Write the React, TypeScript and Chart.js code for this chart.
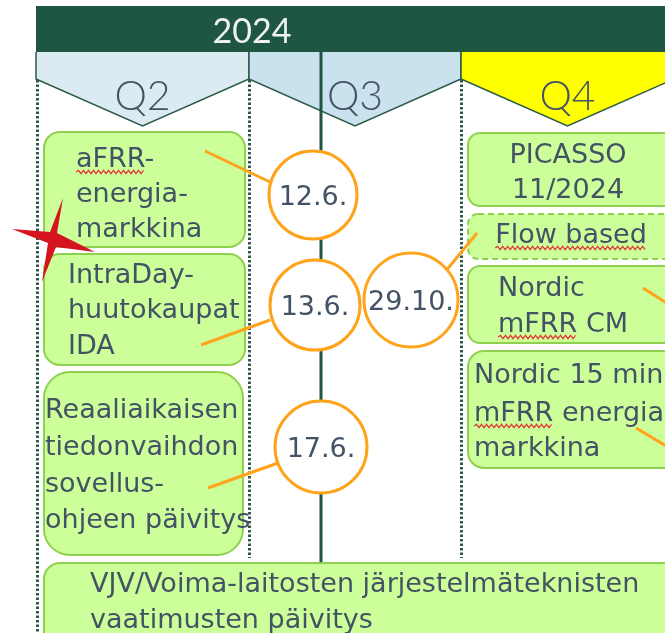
import React, { useEffect, useRef } from "react";
import { Chart, registerables } from "chart.js";

Chart.register(...registerables);

// ---------------- data ----------------
const yearLabel = "2024";
const quarterLabels = ["Q2", "Q3", "Q4"];
const milestoneDates = ["12.6.", "13.6.", "17.6.", "29.10."];
const milestoneX = [313, 315, 321, 411];
const milestoneY = [195, 305, 447, 300];
const milestoneR = [44, 45, 46, 47];

const boxLines = [
  ["aFRR-", "energia-", "markkina"],
  ["IntraDay-", "huutokaupat", "IDA"],
  ["Reaaliaikaisen", "tiedonvaihdon", "sovellus-", "ohjeen päivitys"],
  ["PICASSO", "11/2024"],
  ["Flow based"],
  ["Nordic", "mFRR CM"],
  ["Nordic 15 min", "mFRR energia-", "markkina"],
  ["VJV/Voima-laitosten järjestelmäteknisten", "vaatimusten päivitys"],
];

// words marked by the spell checker: [box, line, word]
const spellMarks: [number, number, string][] = [
  [0, 0, "aFRR"],
  [4, 0, "Flow based"],
  [5, 1, "mFRR"],
  [6, 1, "mFRR"],
];

// ---------------- layout ----------------
const W = 665;
const H = 633;
const header = { x0: 36, x1: 665, y0: 6, y1: 52 };
const quarterEdges = [36, 249, 461, 674];
const chevronSideY = 79;
const chevronTipY = 126;
const dottedLines = [
  { x: 37.5, y0: 80, y1: 633 },
  { x: 249.5, y0: 80, y1: 558 },
  { x: 461.5, y0: 80, y1: 558 },
];
const timeline = { x: 321, y0: 52, y1: 562 };

const boxRects = [
  { x0: 44, x1: 245, y0: 132, y1: 247, r: 16, dashed: false },
  { x0: 44, x1: 245, y0: 254, y1: 365, r: 16, dashed: false },
  { x0: 44, x1: 243, y0: 372, y1: 555, r: 26, dashed: false },
  { x0: 468, x1: 690, y0: 133, y1: 206, r: 12, dashed: false },
  { x0: 468, x1: 690, y0: 214, y1: 259, r: 10, dashed: true },
  { x0: 468, x1: 690, y0: 266, y1: 343, r: 12, dashed: false },
  { x0: 468, x1: 690, y0: 351, y1: 468, r: 16, dashed: false },
  { x0: 44, x1: 690, y0: 563, y1: 680, r: 16, dashed: false },
];
const textAnchors = [
  { x: 76, align: "left", ys: [157, 192, 227] },
  { x: 68, align: "left", ys: [273, 308, 344] },
  { x: 45, align: "left", ys: [408, 445, 482, 518] },
  { x: 568, align: "center", ys: [153, 188] },
  { x: 571, align: "center", ys: [233] },
  { x: 498, align: "left", ys: [286, 322] },
  { x: 474, align: "left", ys: [373, 411, 446] },
  { x: 90, align: "left", ys: [582, 618] },
];

const connectors = [
  [[205, 151], [270, 182]],
  [[201, 345], [270, 320]],
  [[208, 488], [278, 463]],
  [[445, 272], [477, 233]],
  [[643, 288], [690, 318]],
  [[636, 428], [690, 460]],
];

const starPoints = [
  [63, 198], [57, 233], [95, 252], [56, 247],
  [42, 282], [48, 243], [12, 229], [50, 232],
];

// ---------------- styles ----------------
const HEADER = "#1f5642";
const LINE_DARK = "#2b5a48";
const QUARTER_FILLS = ["#dcebf2", "#c9e2ed", "#ffff00"];
const BOX_FILL = "#ccff99";
const BOX_BORDER = "#8fd14f";
const TEXT = "#435264";
const ORANGE = "#ffa31a";
const FONT = "27px 'DejaVu Sans'";

const diagramPlugin = {
  id: "diagram",
  beforeDatasetsDraw(chart: any) {
    const ctx: CanvasRenderingContext2D = chart.ctx;
    const sx = chart.scales.x;
    const sy = chart.scales.y;
    const X = (v: number) => sx.getPixelForValue(v);
    const Y = (v: number) => sy.getPixelForValue(v);
    ctx.save();

    // header band
    ctx.fillStyle = HEADER;
    ctx.fillRect(X(header.x0), Y(header.y0), X(header.x1) - X(header.x0), Y(header.y1) - Y(header.y0));
    ctx.fillStyle = "#eef3ef";
    ctx.font = "34px Lato";
    ctx.textAlign = "center";
    ctx.textBaseline = "alphabetic";
    ctx.fillText(yearLabel, X(252), Y(43));

    // quarter chevrons
    quarterLabels.forEach((q, i) => {
      const a = quarterEdges[i];
      const b = quarterEdges[i + 1];
      const m = (a + b) / 2;
      ctx.beginPath();
      ctx.moveTo(X(a), Y(header.y1));
      ctx.lineTo(X(b), Y(header.y1));
      ctx.lineTo(X(b), Y(chevronSideY));
      ctx.lineTo(X(m), Y(chevronTipY));
      ctx.lineTo(X(a), Y(chevronSideY));
      ctx.closePath();
      ctx.fillStyle = QUARTER_FILLS[i];
      ctx.fill();
      ctx.strokeStyle = LINE_DARK;
      ctx.lineWidth = 1.5;
      ctx.beginPath();
      ctx.moveTo(X(a), Y(header.y1));
      ctx.lineTo(X(a), Y(chevronSideY));
      ctx.lineTo(X(m), Y(chevronTipY));
      ctx.lineTo(X(b), Y(chevronSideY));
      ctx.lineTo(X(b), Y(header.y1));
      ctx.stroke();
      ctx.fillStyle = TEXT;
      ctx.font = "300 41px Lato";
      ctx.textAlign = "center";
      ctx.fillText(q, X(m), Y(110));
    });

    // dotted quarter separators
    ctx.strokeStyle = LINE_DARK;
    ctx.lineWidth = 3;
    ctx.setLineDash([2.5, 2]);
    dottedLines.forEach((d) => {
      ctx.beginPath();
      ctx.moveTo(X(d.x), Y(d.y0));
      ctx.lineTo(X(d.x), Y(d.y1));
      ctx.stroke();
    });
    ctx.setLineDash([]);

    // timeline
    ctx.strokeStyle = HEADER;
    ctx.lineWidth = 3;
    ctx.beginPath();
    ctx.moveTo(X(timeline.x), Y(timeline.y0));
    ctx.lineTo(X(timeline.x), Y(timeline.y1));
    ctx.stroke();

    // boxes
    boxRects.forEach((b, i) => {
      ctx.beginPath();
      ctx.roundRect(X(b.x0), Y(b.y0), X(b.x1) - X(b.x0), Y(b.y1) - Y(b.y0), b.r);
      ctx.fillStyle = BOX_FILL;
      ctx.fill();
      ctx.strokeStyle = BOX_BORDER;
      ctx.lineWidth = 2;
      ctx.setLineDash(b.dashed ? [6, 4] : []);
      ctx.stroke();
      ctx.setLineDash([]);
      const t = textAnchors[i];
      ctx.fillStyle = TEXT;
      ctx.font = FONT;
      ctx.textAlign = t.align as CanvasTextAlign;
      ctx.textBaseline = "alphabetic";
      boxLines[i].forEach((line, j) => {
        ctx.fillText(line, X(t.x), Y(t.ys[j] + 10));
      });
    });

    // spell-check squiggles
    ctx.strokeStyle = "#e23b3b";
    ctx.lineWidth = 1.3;
    ctx.font = FONT;
    spellMarks.forEach(([bi, li, word]) => {
      const t = textAnchors[bi];
      const full = ctx.measureText(boxLines[bi][li]).width;
      const start = t.align === "center" ? X(t.x) - full / 2 : X(t.x);
      const w = ctx.measureText(word).width;
      const y = Y(t.ys[li] + 15);
      ctx.beginPath();
      let up = true;
      ctx.moveTo(start, y);
      for (let x = start + 2.5; x <= start + w; x += 2.5) {
        ctx.lineTo(x, y + (up ? -1.6 : 1.6));
        up = !up;
      }
      ctx.stroke();
    });
    ctx.restore();
  },
  afterDatasetsDraw(chart: any) {
    const ctx: CanvasRenderingContext2D = chart.ctx;
    const sx = chart.scales.x;
    const sy = chart.scales.y;
    const X = (v: number) => sx.getPixelForValue(v);
    const Y = (v: number) => sy.getPixelForValue(v);
    ctx.save();
    ctx.fillStyle = TEXT;
    ctx.font = FONT;
    ctx.textAlign = "center";
    ctx.textBaseline = "alphabetic";
    milestoneDates.forEach((d, i) => {
      ctx.fillText(d, X(milestoneX[i]), Y(milestoneY[i] + 10));
    });
    // red star marker
    ctx.beginPath();
    starPoints.forEach(([x, y], i) => {
      if (i === 0) ctx.moveTo(X(x), Y(y));
      else ctx.lineTo(X(x), Y(y));
    });
    ctx.closePath();
    ctx.fillStyle = "#d6141f";
    ctx.fill();
    ctx.restore();
  },
};

export default function App() {
  const ref = useRef<HTMLCanvasElement>(null);
  useEffect(() => {
    document.body.style.margin = "0";
    const bubbleData = milestoneDates.map((_, i) => ({
      x: milestoneX[i],
      y: milestoneY[i],
      r: milestoneR[i],
    }));
    const lineSets = connectors.map((c) => ({
      type: "line" as const,
      data: c.map(([x, y]) => ({ x, y })),
      borderColor: ORANGE,
      borderWidth: 3,
      pointRadius: 0,
      showLine: true,
      order: 2,
    }));
    const chart = new Chart(ref.current!, {
      type: "bubble",
      data: {
        datasets: [
          ...lineSets,
          {
            type: "bubble",
            data: bubbleData,
            backgroundColor: "#ffffff",
            borderColor: ORANGE,
            borderWidth: 3,
            order: 1,
          } as any,
        ],
      },
      options: {
        responsive: false,
        animation: false,
        devicePixelRatio: 1,
        layout: { padding: 0, autoPadding: false },
        scales: {
          x: { type: "linear", min: 0, max: W, display: false },
          y: { type: "linear", min: 0, max: H, reverse: true, display: false },
        },
        plugins: {
          legend: { display: false },
          tooltip: { enabled: false },
        },
      },
      plugins: [diagramPlugin],
    });
    return () => chart.destroy();
  }, []);
  return (
    <div style={{ width: W, height: H }}>
      <canvas ref={ref} width={W} height={H} style={{ display: "block" }} />
    </div>
  );
}
